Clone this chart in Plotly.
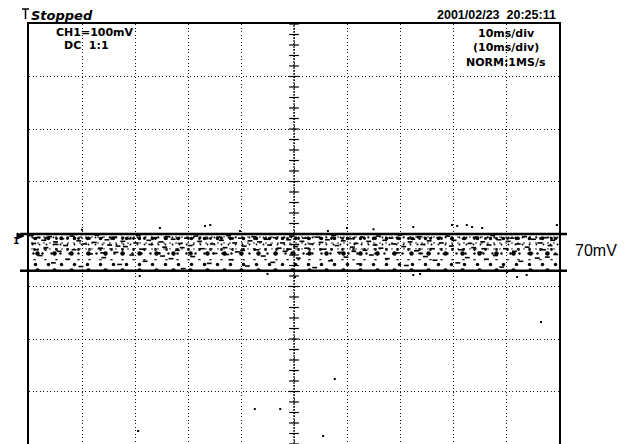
import numpy as np
import plotly.graph_objects as go

# ---- data (mV vs ms; 10 ms/div, 100 mV/div) ----
x_range_ms = [-50, 50]
y_range_mV = [-400, 400]
band_top_mV = 0
band_bottom_mV = -70
# faint background texture layers inside the band (top, bottom, tile sizes)
layer_top_mV = [0, -4, -30, -50]
layer_bot_mV = [-4, -30, -50, -70]
layer_tiles = [[5, 7, 11], [6, 7, 11, 13], [9, 11, 17], [13, 17]]

# noise specks (ms, mV)
noise_x_ms = [
    -49.6, -49.1, -48.3, -47.9, -47.2, -46.8, -46.1, -45.4, -45.0, -44.3,
    -43.8, -43.1, -42.7, -41.9, -41.5, -40.6, -40.2, -39.5, -38.9, -38.4,
    -37.7, -37.2, -36.5, -35.9, -35.3, -34.8, -34.0, -33.6, -32.9, -32.3,
    -31.8, -31.1, -30.6, -29.8, -29.4, -28.7, -28.1, -27.4, -27.0, -26.2,
    -25.7, -25.1, -24.4, -23.9, -23.2, -22.8, -22.0, -21.5, -20.9, -20.3,
    -19.6, -19.1, -18.5, -17.8, -17.3, -16.6, -16.0, -15.4, -14.9, -14.2,
    -13.7, -13.0, -12.4, -11.9, -11.2, -10.7, -10.1, -9.4, -8.8, -8.3,
    -7.6, -7.0, -6.5, -5.8, -5.3, -4.6, -4.0, -3.5, -2.8, -2.2,
    -1.7, -1.0, -0.5, 0.3, 0.8, 1.5, 2.0, 2.7, 3.2, 3.9,
    4.4, 5.1, 5.6, 6.3, 6.9, 7.5, 8.1, 8.6, 9.3, 9.8,
    10.5, 11.0, 11.7, 12.2, 12.9, 13.4, 14.1, 14.6, 15.3, 15.9,
    16.4, 17.1, 17.6, 18.3, 18.8, 19.5, 20.0, 20.7, 21.2, 21.9,
    22.4, 23.1, 23.6, 24.3, 24.8, 25.5, 26.1, 26.6, 27.3, 27.8,
    28.5, 29.0, 29.7, 30.2, 30.9, 31.4, 32.1, 32.7, 33.2, 33.9,
    34.4, 35.1, 35.6, 36.3, 36.8, 37.5, 38.0, 38.7, 39.2, 39.9,
    40.4, 41.1, 41.6, 42.3, 42.8, 43.5, 44.0, 44.7, 45.2, 45.9,
    46.4, 47.1, 47.6, 48.3, 48.8, 49.4, -48.6, -36.1, -24.8, -12.7,
    -0.9, 11.3, 23.9, 35.9, 47.8, -44.9, -33.2, -21.1, -9.7, 2.4,
]
noise_y_mV = [
    -3, -18, -7, -41, -12, -26, -5, -55, -15, -33,
    -9, -22, -48, -4, -30, -13, -62, -19, -8, -38,
    -16, -2, -27, -45, -11, -21, -6, -35, -58, -14,
    -24, -9, -40, -17, -3, -29, -52, -12, -20, -7,
    -36, -15, -25, -5, -47, -10, -31, -18, -66, -8,
    -22, -43, -4, -14, -28, -9, -56, -19, -37, -6,
    -12, -26, -3, -49, -17, -34, -8, -23, -61, -13,
    -5, -30, -15, -42, -10, -21, -54, -7, -27, -17,
    -33, -11, -4, -24, -46, -14, -8, -38, -19, -64,
    -6, -16, -29, -11, -51, -3, -22, -35, -13, -44,
    -9, -25, -18, -57, -6, -31, -14, -40, -21, -4,
    -27, -12, -47, -8, -19, -36, -2, -24, -60, -15,
    -10, -32, -5, -20, -43, -13, -28, -50, -7, -17,
    -38, -4, -23, -12, -55, -30, -9, -45, -18, -26,
    -6, -35, -15, -48, -21, -3, -41, -11, -63, -28,
    -14, -8, -33, -19, -52, -5, -25, -37, -10, -46,
    -17, -30, -7, -22, -12, -39, -30, -36, -42, -39,
    -29, -33, -37, -28, -44, -20, -23, -26, -31, -27,
]
# sparse noise points outside the band
out_x_ms = [-15.8, -10.2, 6.4, 10.0, 22.5, 29.8, 30.8, 32.6, 33.6, 35.5, 49.6, -25.3, -16.8,
            22.5, 23.8, 40.2, 42.1, 43.9, -29.1, 0.2, -7.4, -2.6, -29.4, 5.5, 7.7, 46.6, -40.0, -5.0, 15.0]
out_y_mV = [17.1, 5.7, 5.7, 11.4, 13.3, 17.1, 15.2, 17.1, 13.3, 11.4, 17.1, 11.4, 15.2,
            -78.1, -76.2, -72.4, -81.9, -78.1, -80.0, -81.9, -333.3, -333.3, -375.2, -384.8, -276.2, -167.6, 8.0, -76.0, 9.0]
amplitude_label = "70mV"

# ---- geometry ----
W, H = 629, 444
L, R, T, B = 29, 70, 24, 0
PW, PH = W - L - R, H - T - B
def px(x):
    return (x - L) / PW
def py(y):
    return (H - B - y) / PH

fig = go.Figure()

# faint noise texture
for yt, yb, tiles in zip(layer_top_mV, layer_bot_mV, layer_tiles):
    for tile in tiles:
        fig.add_trace(go.Scatter(
            x=[x_range_ms[0], x_range_ms[1], x_range_ms[1], x_range_ms[0], x_range_ms[0]],
            y=[yt, yt, yb, yb, yt], mode="none", fill="toself", fillcolor="rgba(0,0,0,0)",
            fillpattern=dict(shape=".", size=tile, solidity=0.055, fgcolor="black",
                             fgopacity=1, bgcolor="rgba(0,0,0,0)"),
            hoverinfo="skip", showlegend=False))

# noise specks
fig.add_trace(go.Scatter(x=noise_x_ms, y=noise_y_mV, mode="markers",
                         marker=dict(symbol="line-ew", size=3.5, line=dict(width=1.6, color="black")),
                         hoverinfo="skip", showlegend=False))

# outliers
fig.add_trace(go.Scatter(x=out_x_ms, y=out_y_mV, mode="markers",
                         marker=dict(size=2, color="black", symbol="square"),
                         hoverinfo="skip", showlegend=False))

# center vertical axis with ticks
tick_y = np.arange(y_range_mV[0], y_range_mV[1] + 1, 20)
fig.add_trace(go.Scatter(x=np.zeros(len(tick_y)), y=tick_y, mode="markers",
                         marker=dict(symbol="line-ew", size=7, line=dict(width=1.2, color="black")),
                         hoverinfo="skip", showlegend=False))
fig.add_shape(type="line", xref="x", yref="y", x0=0, x1=0, y0=y_range_mV[0], y1=y_range_mV[1],
              line=dict(color="black", width=1.2, dash="2px,1px"))

# amplitude bracket lines (extend beyond the graticule)
for yv in [band_top_mV, band_bottom_mV]:
    yp = (yv - y_range_mV[0]) / (y_range_mV[1] - y_range_mV[0])
    fig.add_shape(type="line", xref="paper", yref="paper", x0=px(20), x1=px(567), y0=yp, y1=yp,
                  line=dict(color="black", width=2.5))

# ground marker
fig.add_shape(type="path", xref="paper", yref="paper",
              path=f"M {px(17)} {py(233)} L {px(24)} {py(236)} L {px(17)} {py(239)} Z",
              fillcolor="black", line=dict(color="black", width=1))
# trigger marker (small T with arrow) before "Stopped"
fig.add_shape(type="path", xref="paper", yref="paper",
              path=f"M {px(22)} {py(9)} L {px(29)} {py(9)} M {px(25.5)} {py(9)} L {px(25.5)} {py(19)}",
              line=dict(color="black", width=1.5))

ann = []
def text(t, x, y, size, xanchor="left", family="DejaVu Sans", color="black"):
    ann.append(dict(text=t, x=px(x), y=py(y), xref="paper", yref="paper", showarrow=False,
                    xanchor=xanchor, yanchor="middle", font=dict(size=size, family=family, color=color)))

text("<b><i>Stopped</i></b>", 29, 15, 13)
text("<b>2001/02/23  20:25:11</b>", 558, 15, 12.5, xanchor="right", family="Liberation Sans")
text("<b>CH1=100mV</b>", 54, 32, 11)
text("<b>DC  1:1</b>", 62, 45, 11)
text("<b>10ms/div</b>", 506, 33, 11, xanchor="center")
text("<b>(10ms/div)</b>", 506, 47, 11, xanchor="center")
text("<b>NORM:1MS/s</b>", 506, 62, 11, xanchor="center")
text("<b>1</b>", 11, 241, 9)
text(amplitude_label, 573, 250, 16, family="Liberation Sans Narrow, Arial Narrow, Liberation Sans")

fig.update_layout(
    width=W, height=H, margin=dict(l=L, r=R, t=T, b=B),
    paper_bgcolor="white", plot_bgcolor="white", annotations=ann, showlegend=False,
    xaxis=dict(range=x_range_ms, dtick=10, tick0=0, showgrid=True, gridcolor="#111", gridwidth=1,
               griddash="1px,2.5px", zeroline=False, showticklabels=False, ticks="",
               side="top", showline=True, linecolor="black", linewidth=1.5, mirror=False, fixedrange=True),
    yaxis=dict(range=y_range_mV, dtick=100, tick0=0, showgrid=True, gridcolor="#111", gridwidth=1,
               griddash="1px,2.5px", zeroline=False, showticklabels=False, ticks="",
               showline=True, linecolor="black", linewidth=2, mirror=True, fixedrange=True),
)

fig.write_html("out.html", config={"displayModeBar": False},
               post_script="document.body.style.margin='0';document.body.style.overflow='hidden';")
